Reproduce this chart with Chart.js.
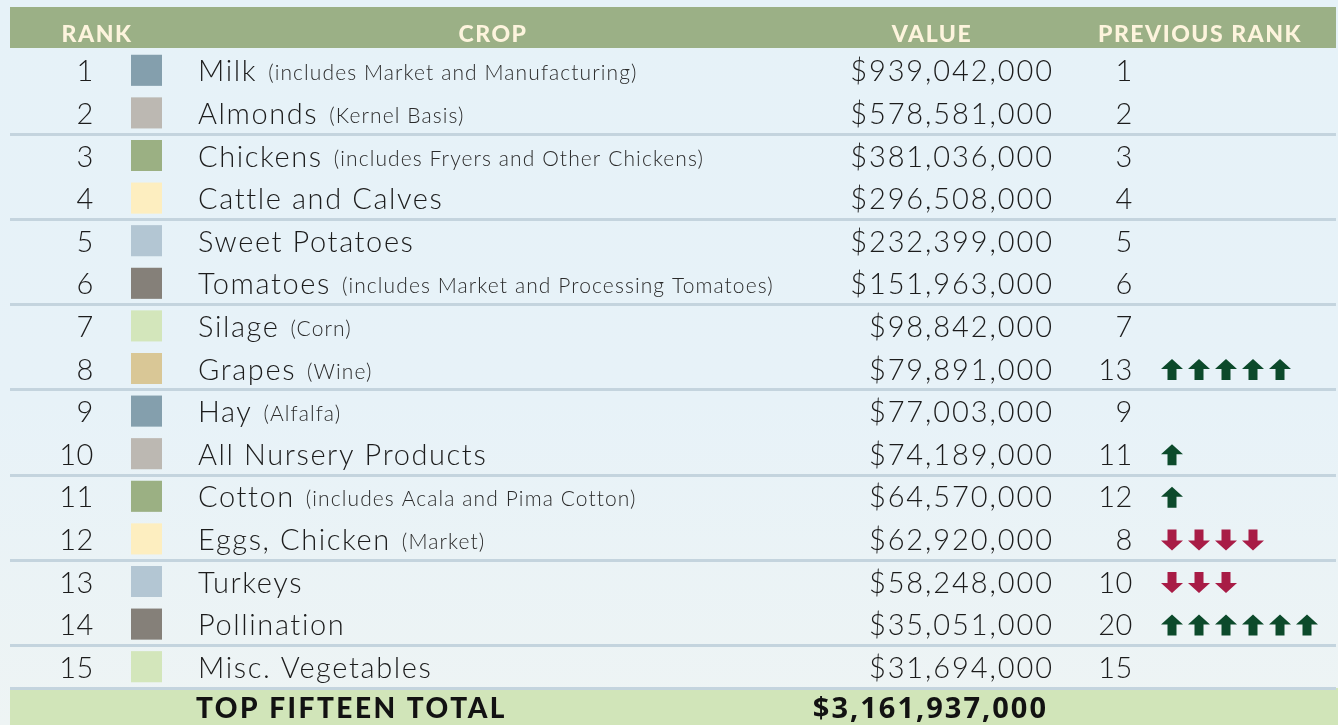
<!DOCTYPE html>
<html>
<head>
<meta charset="utf-8">
<script src="https://cdn.jsdelivr.net/npm/chart.js@4"></script>
<style>
  html, body { margin: 0; padding: 0; }
  body {
    width: 1338px;
    height: 725px;
    overflow: hidden;
    background: linear-gradient(180deg, #e6f2f8 0%, #e7f2f8 55%, #eef4f4 100%);
  }
  #cropTable { display: block; }
</style>
</head>
<body>
<canvas id="cropTable" width="1338" height="725"></canvas>
<script>
const ranks = [1, 2, 3, 4, 5, 6, 7, 8, 9, 10, 11, 12, 13, 14, 15];
const crops = [
  'Milk', 'Almonds', 'Chickens', 'Cattle and Calves', 'Sweet Potatoes',
  'Tomatoes', 'Silage', 'Grapes', 'Hay', 'All Nursery Products',
  'Cotton', 'Eggs, Chicken', 'Turkeys', 'Pollination', 'Misc. Vegetables',
];
const notes = [
  '(includes Market and Manufacturing)', '(Kernel Basis)',
  '(includes Fryers and Other Chickens)', '', '',
  '(includes Market and Processing Tomatoes)', '(Corn)', '(Wine)', '(Alfalfa)', '',
  '(includes Acala and Pima Cotton)', '(Market)', '', '', '',
];
const values = [
  939042000, 578581000, 381036000, 296508000, 232399000,
  151963000, 98842000, 79891000, 77003000, 74189000,
  64570000, 62920000, 58248000, 35051000, 31694000,
];
const prevRanks = [1, 2, 3, 4, 5, 6, 7, 13, 9, 11, 12, 8, 10, 20, 15];
const swatchColors = [
  '#849fad', '#bcb8b2', '#9bb083', '#fdeec0', '#b3c6d3', '#858079', '#d3e6bb', '#d9c796',
  '#849fad', '#bcb8b2', '#9bb083', '#fdeec0', '#b3c6d3', '#858079', '#d3e6bb',
];
const headers = ['RANK', 'CROP', 'VALUE', 'PREVIOUS RANK'];

// column layout (x scale units = page pixels)
const col = {
  rankRight: 94,
  swatch: [131, 162],
  name: 198,
  valueRight: 1052,
  prevRight: 1133,
  arrow: 1161,
  arrowStep: 27,
  headerCenters: [97, 493, 932, 1200],
  footLabel: 196,
  footValueRight: 1046,
};

const money = (v) => `$${v.toLocaleString('en-US')}`;
const total = values.reduce((a, b) => a + b, 0);

const drawArrow = (ctx, x, y, up) => {
  const w = 22;
  const h = 21;
  const head = 10;
  const stem = 9;
  const top = y - h / 2;
  const bot = y + h / 2;
  ctx.beginPath();
  if (up) {
    ctx.moveTo(x + w / 2, top);
    ctx.lineTo(x + w, top + head);
    ctx.lineTo(x + w / 2 + stem / 2, top + head);
    ctx.lineTo(x + w / 2 + stem / 2, bot);
    ctx.lineTo(x + w / 2 - stem / 2, bot);
    ctx.lineTo(x + w / 2 - stem / 2, top + head);
    ctx.lineTo(x, top + head);
  } else {
    ctx.moveTo(x + w / 2, bot);
    ctx.lineTo(x + w, bot - head);
    ctx.lineTo(x + w / 2 + stem / 2, bot - head);
    ctx.lineTo(x + w / 2 + stem / 2, top);
    ctx.lineTo(x + w / 2 - stem / 2, top);
    ctx.lineTo(x + w / 2 - stem / 2, bot - head);
    ctx.lineTo(x, bot - head);
  }
  ctx.closePath();
  ctx.fillStyle = up ? '#0c4a2b' : '#a81c46';
  ctx.fill();
};

const tablePlugin = {
  id: 'tableText',
  beforeDraw(chart) {
    const { ctx, chartArea, scales: { x } } = chart;
    const left = x.getPixelForValue(x.min);
    const right = x.getPixelForValue(x.max);
    ctx.save();
    // header band
    ctx.fillStyle = '#9bb086';
    ctx.fillRect(left, 7, right - left, chartArea.top - 8);
    // footer band
    ctx.fillStyle = '#d1e5b9';
    ctx.fillRect(left, chartArea.bottom, chart.width - left, chart.height - chartArea.bottom);
    ctx.restore();
  },
  afterDatasetsDraw(chart) {
    const { ctx, chartArea, scales: { x, y } } = chart;
    ctx.save();

    // header labels
    ctx.fillStyle = '#fdf4dd';
    ctx.font = '900 23px Lato';
    ctx.letterSpacing = '1.5px';
    ctx.textAlign = 'center';
    ctx.textBaseline = 'alphabetic';
    headers.forEach((h, i) => {
      ctx.fillText(h, x.getPixelForValue(col.headerCenters[i]), 42);
    });

    ranks.forEach((rank, i) => {
      const cy = y.getPixelForValue(i);
      const base = cy + 11;
      ctx.fillStyle = '#1c1c1c';
      ctx.font = '300 29px Lato';
      ctx.letterSpacing = '0.6px';
      ctx.textAlign = 'right';
      ctx.fillText(String(rank), x.getPixelForValue(col.rankRight), base);
      ctx.fillText(String(prevRanks[i]), x.getPixelForValue(col.prevRight), base);
      ctx.letterSpacing = '1.9px';
      ctx.fillText(money(values[i]), x.getPixelForValue(col.valueRight) + 1.9, base);

      ctx.textAlign = 'left';
      ctx.letterSpacing = '1.6px';
      const nx = x.getPixelForValue(col.name);
      ctx.fillText(crops[i], nx, base);
      const w = ctx.measureText(crops[i]).width;
      if (notes[i]) {
        ctx.font = '300 21px Lato';
        ctx.letterSpacing = '1.1px';
        ctx.fillStyle = '#2b2b2b';
        ctx.fillText(notes[i], nx + w + 11, base - 1);
      }

      const diff = prevRanks[i] - rank;
      for (let k = 0; k < Math.abs(diff); k += 1) {
        drawArrow(ctx, x.getPixelForValue(col.arrow + k * col.arrowStep), cy + 1, diff > 0);
      }
    });

    // footer
    const fy = (chartArea.bottom + chart.height) / 2 + 11;
    ctx.fillStyle = '#121212';
    ctx.font = '900 28px Lato';
    ctx.letterSpacing = '2.5px';
    ctx.textAlign = 'left';
    ctx.fillText('TOP FIFTEEN TOTAL', x.getPixelForValue(col.footLabel), fy);
    ctx.font = 'bold 29px "Open Sans"';
    ctx.letterSpacing = '2px';
    ctx.textAlign = 'right';
    ctx.fillText(money(total), x.getPixelForValue(col.footValueRight) + 2, fy);
    ctx.restore();
  },
};

const init = () => {
  const ctx = document.getElementById('cropTable');
  // eslint-disable-next-line no-new
  new Chart(ctx, {
    type: 'bar',
    data: {
      labels: ranks.map(String),
      datasets: [
        {
          label: 'swatch',
          data: ranks.map(() => col.swatch),
          backgroundColor: swatchColors,
          borderWidth: 0,
          barPercentage: 0.73,
          categoryPercentage: 1,
        },
      ],
    },
    options: {
      indexAxis: 'y',
      responsive: false,
      animation: false,
      layout: {
        padding: { top: 49, bottom: 37, left: 10, right: 2 },
      },
      scales: {
        x: { type: 'linear', min: 10, max: 1336, display: false },
        y: {
          display: true,
          border: { display: false },
          ticks: { display: false },
          grid: {
            offset: true,
            drawTicks: false,
            tickLength: 0,
            lineWidth: 3,
            color: (c) => {
              if (c.type !== 'tick') return 'rgba(196,212,222,1)';
              return c.index > 0 && c.index % 2 === 0 ? 'rgba(196,212,222,1)' : 'rgba(0,0,0,0)';
            },
          },
        },
      },
      plugins: {
        legend: { display: false },
        tooltip: { enabled: false },
      },
    },
    plugins: [tablePlugin],
  });
};

init();
</script>
</body>
</html>
